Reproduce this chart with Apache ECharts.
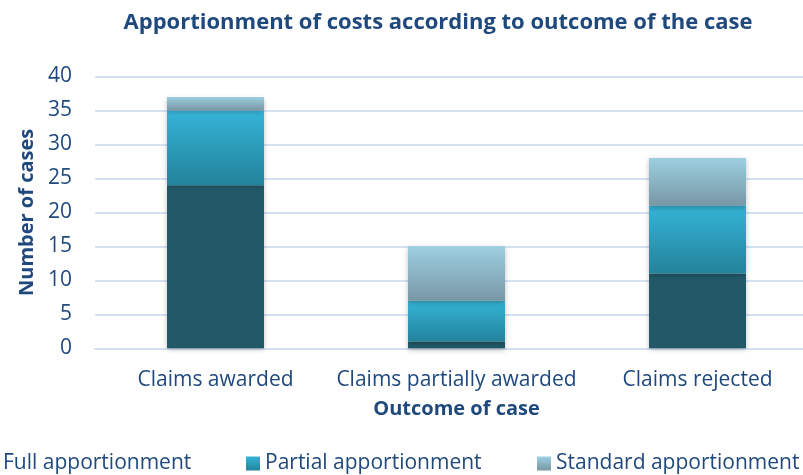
<!DOCTYPE html>
<html>
<head>
<meta charset="utf-8">
<script src="https://cdn.jsdelivr.net/npm/echarts@6/dist/echarts.min.js"></script>
<style>
  html, body { margin: 0; padding: 0; background: #fff; overflow: hidden; }
  /* plot area runs past the right edge in the original, so the canvas is wider than the window */
  #chart { width: 818px; height: 475px; }
</style>
</head>
<body>
<div id="chart"></div>
<script>
// data
const categories = ['Claims awarded', 'Claims partially awarded', 'Claims rejected'];
const fullValues = [24, 1, 11];
const partialValues = [11, 6, 10];
const standardValues = [2, 8, 7];

const TEXT = '#1f497d';
const FONT = 'Open Sans';

function grad(top, bottom) {
  return new echarts.graphic.LinearGradient(0, 0, 0, 1, [
    { offset: 0, color: top },
    { offset: 1, color: bottom }
  ]);
}

const colors = {
  full: '#215968',
  partial: grad('#35b4d7', '#23839b'),
  standard: grad('#9dcfe0', '#7897a5')
};

function barSeries(name, data, color) {
  return {
    name: name,
    type: 'bar',
    stack: 'total',
    barWidth: 97,
    data: data,
    itemStyle: {
      color: color,
      shadowColor: 'rgba(0,0,0,0.25)',
      shadowBlur: 5,
      shadowOffsetY: 2
    }
  };
}

const legendText = { color: TEXT, fontFamily: FONT, fontSize: 21 };
function legendAt(name, left) {
  return {
    data: [name], left: left, top: 453, padding: 0,
    icon: 'rect', itemWidth: 14, itemHeight: 14,
    textStyle: legendText
  };
}

const chart = echarts.init(document.getElementById('chart'), null, { renderer: 'canvas' });
chart.setOption({
  animation: false,
  textStyle: { fontFamily: FONT },
  title: {
    text: 'Apportionment of costs according to outcome of the case',
    left: 433,
    textAlign: 'center',
    top: 7,
    textStyle: { color: TEXT, fontFamily: FONT, fontSize: 22, fontWeight: 'bold' }
  },
  // first legend icon sits off the left edge, as in the original
  legend: [
    legendAt('Full apportionment', -16),
    legendAt('Partial apportionment', 246),
    legendAt('Standard apportionment', 537)
  ],
  grid: { left: 95, top: 76.5, right: 0, height: 271.8, containLabel: false },
  xAxis: {
    type: 'category',
    data: categories,
    name: 'Outcome of case',
    nameLocation: 'middle',
    nameGap: 51,
    nameTextStyle: { color: TEXT, fontFamily: FONT, fontSize: 20, fontWeight: 'bold' },
    axisLine: { lineStyle: { color: '#d6e2f3', width: 2 } },
    axisTick: { show: false },
    axisLabel: { color: TEXT, fontFamily: FONT, fontSize: 21, margin: 21, interval: 0 }
  },
  yAxis: {
    type: 'value',
    min: 0,
    max: 40,
    interval: 5,
    name: 'Number of cases',
    nameLocation: 'middle',
    nameGap: 56,
    nameTextStyle: { color: TEXT, fontFamily: FONT, fontSize: 20, fontWeight: 'bold' },
    axisLine: { show: false },
    axisTick: { show: false },
    axisLabel: { color: TEXT, fontFamily: FONT, fontSize: 21, margin: 23 },
    splitLine: { lineStyle: { color: '#d6e2f3', width: 2 } }
  },
  series: [
    barSeries('Full apportionment', fullValues, colors.full),
    barSeries('Partial apportionment', partialValues, colors.partial),
    barSeries('Standard apportionment', standardValues, colors.standard)
  ]
});
</script>
</body>
</html>
